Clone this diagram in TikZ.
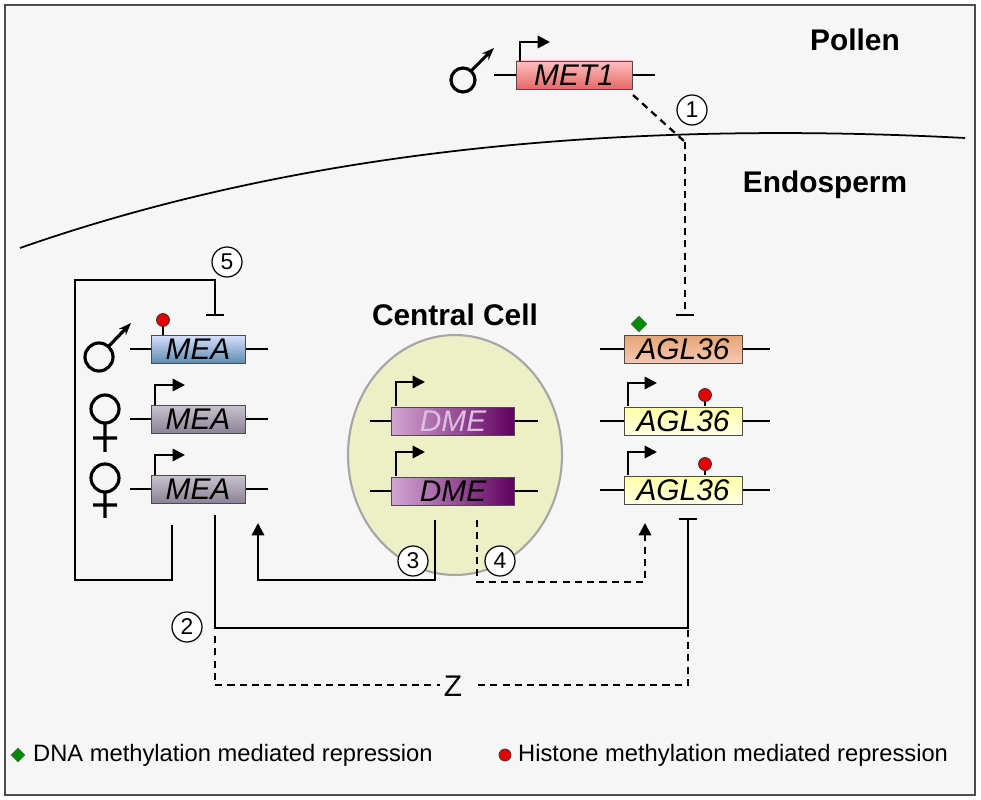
\documentclass[tikz,border=0pt]{standalone}
\usepackage{fontspec}
\setmainfont{Liberation Sans}
\usetikzlibrary{arrows.meta,shapes.geometric}
\definecolor{ellfill}{HTML}{EDEFC6}
\begin{document}
\begin{tikzpicture}[x=0.02cm,y=-0.02cm,
 ln/.style={line width=1.3pt,black},
 dsh/.style={line width=1.3pt,dash pattern=on 4pt off 3pt},
 gene/.style={draw=black!70,line width=0.5pt,minimum width=#1*0.02cm,minimum height=0.56cm,inner sep=0pt,font=\fontsize{17}{19}\selectfont\itshape},
 num/.style={circle,draw,line width=0.7pt,inner sep=0pt,minimum size=0.6cm,fill=white,font=\fontsize{13}{15}\selectfont},
 title/.style={font=\fontsize{17}{19}\selectfont\bfseries},
 prom/.style={line width=1.3pt,-{Triangle[length=7pt,width=7pt]}},
 arr/.style={line width=1.3pt,-{Triangle[length=7pt,width=7pt]}},
 bar/.style={line width=1.3pt,-{Bar[width=10pt]}},
 lol/.style={circle,fill=red!90!black,draw=black!80,line width=0.4pt,minimum size=0.26cm,inner sep=0pt},
 dia/.style={diamond,fill=green!55!black,draw=black!60,line width=0.3pt,minimum size=0.32cm,inner sep=0pt},
 sex/.style={line width=1.8pt},
 leg/.style={anchor=west,font=\fontsize{13.5}{15}\selectfont}
]
\useasboundingbox (0,0) rectangle (981,800);
\draw[fill=gray!7,line width=0.6pt,draw=black!70] (5,5) rectangle (975,795);
% membrane
\draw[line width=1pt] (20,248) .. controls (300,150) and (620,120) .. (965,138);
\node[title] (pollen) at (855,40) {Pollen};
\node[title] (endo) at (825,185) {Endosperm};
\node[title] (cc) at (455,315) {Central Cell};
\node[ellipse,draw=gray!70,line width=1.2pt,fill=ellfill,minimum width=4.28cm,minimum height=4.8cm] (ell) at (455,455) {};
% MET1
\draw[ln] (494,75) -- (655,75);
\node[gene=116,top color=red!25,bottom color=red!55!white!90!black] (met1) at (574,75) {MET1};
\draw[prom] (520,61) -- (520,42) -- (550,42);
\draw[sex] (463,80) circle (12);
\draw[sex,-{Stealth[length=7pt]}] (471,71) -- (494,48);
% dashed 1
\coordinate (c1) at (685,142);
\draw[dsh] (633,95) -- (c1);
\draw[dsh,-{Bar[width=10pt]}] (c1) -- (685,316);
\node[num] (n1) at (692,110) {1};
% MEA rows
\foreach \y in {349,419,489}{\draw[ln] (130,\y) -- (268,\y);}
\node[gene=94,top color=cyan!20!blue!15!white,bottom color={rgb,255:red,95;green,140;blue,175}] (meaa) at (198,349) {MEA};
\node[gene=94,top color={rgb,255:red,200;green,195;blue,205},bottom color={rgb,255:red,140;green,130;blue,150}] (meab) at (198,419) {MEA};
\node[gene=94,top color={rgb,255:red,200;green,195;blue,205},bottom color={rgb,255:red,140;green,130;blue,150}] (meac) at (198,489) {MEA};
\draw[prom] (155,405) -- (155,385) -- (185,385);
\draw[prom] (155,475) -- (155,455) -- (185,455);
\draw[line width=0.8pt] (163,335) -- (163,324);
\node[lol] (la) at (163,320) {};
% sex symbols
\draw[sex] (99,357) circle (14);
\draw[sex,-{Stealth[length=7pt]}] (109,346) -- (131,323);
\draw[sex] (105,409) circle (14) (105,423) -- (105,452) (93,438) -- (117,438);
\draw[sex] (105,478) circle (14) (105,492) -- (105,518) (93,505) -- (117,505);
% DME
\draw[ln] (370,421) -- (538,421);
\draw[ln] (370,491) -- (538,491);
\node[gene=123,left color=violet!35!white,right color=violet!75!black] (dmea) at (453,421) {\textcolor{white!75!violet}{DME}};
\node[gene=123,left color=violet!35!white,right color=violet!75!black] (dmeb) at (453,491) {DME};
\draw[prom] (396,406) -- (396,382) -- (425,382);
\draw[prom] (396,476) -- (396,452) -- (425,452);
% AGL36
\foreach \y in {349,421,490}{\draw[ln] (600,\y) -- (770,\y);}
\node[gene=118,top color={rgb,255:red,230;green,165;blue,115},bottom color={rgb,255:red,245;green,200;blue,180}] (agla) at (683,349) {AGL36};
\node[gene=118,top color=yellow!35,bottom color=yellow!10] (aglb) at (683,421) {AGL36};
\node[gene=118,top color=yellow!35,bottom color=yellow!10] (aglc) at (683,490) {AGL36};
\draw[prom] (628,406) -- (628,383) -- (657,383);
\draw[prom] (628,475) -- (628,452) -- (657,452);
\node[dia] (d1) at (639,324) {};
\draw[line width=0.8pt] (705,406) -- (705,398);
\node[lol] (lb) at (705,395) {};
\draw[line width=0.8pt] (705,475) -- (705,467);
\node[lol] (lc) at (705,464) {};
% loop 5
\coordinate (p5) at (172,525);
\draw[bar] (p5) -- (172,580) -- (75,580) -- (75,280) -- (215,280) -- (215,316);
\node[num] (n5) at (227,262) {5};
% line 2
\coordinate (p2) at (215,515);
\draw[bar] (p2) -- (215,628) -- (688,628) -- (688,518);
\node[num] (n2) at (187,627) {2};
% arrow 3
\coordinate (p3) at (435,520);
\draw[arr] (p3) -- (435,580) -- (258,580) -- (258,523);
\node[num] (n3) at (413,561) {3};
% dashed 4
\coordinate (p4) at (477,520);
\draw[dsh,-{Triangle[length=7pt,width=7pt]}] (p4) -- (477,582) -- (645,582) -- (645,523);
\node[num] (n4) at (500,561) {4};
% Z
\node[font=\fontsize{17}{19}\selectfont,inner sep=0pt] (z) at (453,686) {Z};
\coordinate (zl) at (440,685);
\coordinate (zr) at (478,685);
\draw[dsh] (215,636) -- (215,685) -- (zl);
\draw[dsh] (zr) -- (688,685) -- (688,630);
% legend
\node[dia,minimum size=0.28cm] (ld) at (18,755) {};
\node[leg] (lt1) at (27,755) {DNA methylation mediated repression};
\node[lol,minimum size=0.24cm] (lr) at (505,755) {};
\node[leg] (lt2) at (512,755) {Histone methylation mediated repression};
\end{tikzpicture}
\end{document}
